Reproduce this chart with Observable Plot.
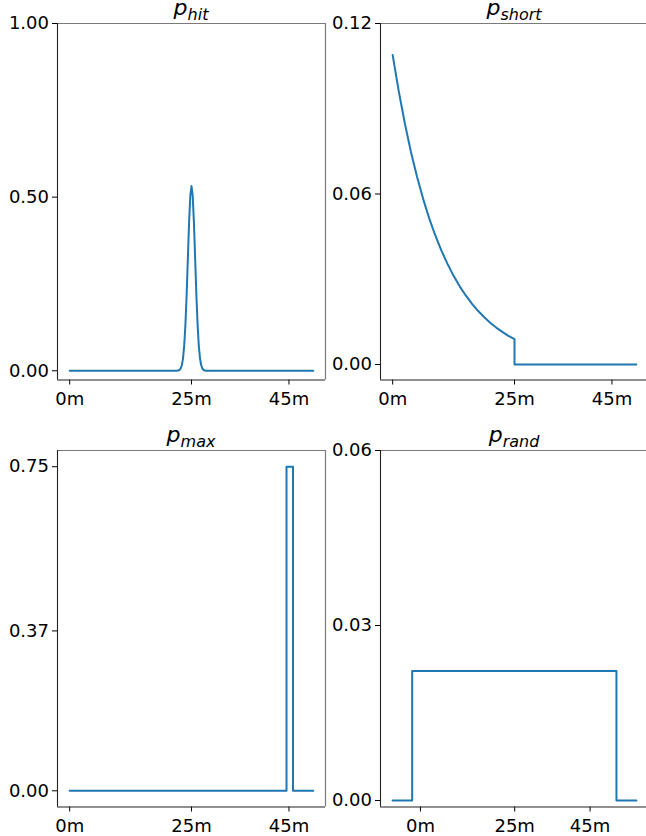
<!DOCTYPE html>
<html>
<head>
<meta charset="utf-8">
<script src="https://cdn.jsdelivr.net/npm/d3@7"></script>
<script src="https://cdn.jsdelivr.net/npm/@observablehq/plot@0.6"></script>
<style>
  html, body { margin: 0; padding: 0; background: #fff; }
  #fig { position: relative; width: 646px; height: 836px; overflow: hidden; background: #fff; }
  .panel { position: absolute; }
  .panel svg { max-width: none !important; height: auto; }
</style>
</head>
<body>
<div id="fig"></div>
<script>
// ---- data ----
const xTicks = [0, 25, 45];

const hitX = [0, 22, 22.25, 22.5, 22.75, 23, 23.25, 23.5, 23.75, 24, 24.25, 24.5, 24.75, 25,
              25.25, 25.5, 25.75, 26, 26.25, 26.5, 26.75, 27, 27.25, 27.5, 27.75, 28, 50];
const hitY = [0, 0.0002, 0.0006, 0.0021, 0.0059, 0.0152, 0.0350, 0.0720, 0.1326, 0.2187, 0.3227, 0.4262, 0.5034, 0.5320,
              0.5034, 0.4262, 0.3227, 0.2187, 0.1326, 0.0720, 0.0350, 0.0152, 0.0059, 0.0021, 0.0006, 0.0002, 0];
const hitTicks = [0, 0.5, 1.0];

const shortX = [0, 1.25, 2.5, 3.75, 5, 6.25, 7.5, 8.75, 10, 11.25, 12.5, 13.75, 15, 16.25, 17.5,
                18.75, 20, 21.25, 22.5, 23.75, 25, 25, 50];
const shortY = [0.1089, 0.0961, 0.0848, 0.0748, 0.0661, 0.0583, 0.0514, 0.0454, 0.0401, 0.0354, 0.0312,
                0.0275, 0.0243, 0.0214, 0.0189, 0.0167, 0.0147, 0.0130, 0.0115, 0.0101, 0.0089, 0, 0];
const shortTicks = [0, 0.06, 0.12];

const maxX = [0, 44.5, 44.5, 45.83, 45.83, 50];
const maxY = [0, 0, 0.75, 0.75, 0, 0];
const maxTicks = [0, 0.37, 0.75];

const randX = [-7.4, -2.2, -2.2, 52.0, 52.0, 57.3];
const randY = [0, 0, 0.0222, 0.0222, 0, 0];
const randTicks = [0, 0.03, 0.06];

const titles = ["hit", "short", "max", "rand"];

// ---- drawing ----
const fig = document.getElementById("fig");
const FRAME_W = 268, FRAME_H = 356.5;
const ML = 57, MR = 5, MT = 22, MB = 40;
const W = ML + FRAME_W + MR, H = MT + FRAME_H + MB;

function panel(opts) {
  const data = opts.xs.map((x, i) => ({x, y: opts.ys[i]}));
  const svg = Plot.plot({
    width: W,
    height: H,
    marginLeft: ML, marginRight: MR, marginTop: MT, marginBottom: MB,
    style: {fontFamily: "DejaVu Sans", fontSize: "18px", background: "transparent", color: "black", overflow: "visible", maxWidth: "none"},
    x: {domain: opts.xd, ticks: xTicks, tickFormat: d => d + "m", label: null, tickSize: 5, tickPadding: 7},
    y: {domain: opts.yd, ticks: opts.yt, tickFormat: d3.format(".2f"), label: null, tickSize: 5, tickPadding: 3.5},
    marks: [
      Plot.ruleY([opts.yd[1]], {stroke: "#7a7a7a", strokeWidth: 1.2}),
      Plot.ruleX([opts.xd[1]], {stroke: "#7a7a7a", strokeWidth: 1.2}),
      Plot.ruleX([opts.xd[0]], {stroke: "#222", strokeWidth: 1.1}),
      Plot.ruleY([opts.yd[0]], {stroke: "#222", strokeWidth: 1.1}),
      Plot.line(data, {x: "x", y: "y", stroke: "#1f77b4", strokeWidth: 2})
    ]
  });
  svg.setAttribute("width", W);
  svg.setAttribute("height", H);
  const t = d3.select(svg).append("text")
    .attr("x", ML + FRAME_W / 2)
    .attr("y", MT - 3.4)
    .attr("text-anchor", "middle")
    .attr("font-family", "DejaVu Sans")
    .attr("font-style", "italic")
    .attr("fill", "black");
  t.append("tspan").attr("font-size", 22).attr("dy", -4.3).text("p");
  t.append("tspan").attr("font-size", 16).attr("dy", 4.3).text(opts.title);
  const wrap = document.createElement("div");
  wrap.className = "panel";
  wrap.style.left = (opts.left - ML) + "px";
  wrap.style.top = (opts.top - MT) + "px";
  wrap.style.width = W + "px";
  wrap.style.height = H + "px";
  wrap.appendChild(svg);
  fig.appendChild(wrap);
}

panel({xs: hitX, ys: hitY, xd: [-2.5, 52.5], yd: [-0.0266, 1.0], yt: hitTicks, title: titles[0], left: 57.3, top: 22.8});
panel({xs: maxX, ys: maxY, xd: [-2.5, 52.5], yd: [-0.0375, 0.7875], yt: maxTicks, title: titles[2], left: 57.3, top: 450.3});
panel({xs: shortX, ys: shortY, xd: [-2.5, 52.5], yd: [-0.00545, 0.12], yt: shortTicks, title: titles[1], left: 379.7, top: 22.8});
panel({xs: randX, ys: randY, xd: [-10.6, 60.5], yd: [-0.00111, 0.06], yt: randTicks, title: titles[3], left: 379.7, top: 450.3});
</script>
</body>
</html>
